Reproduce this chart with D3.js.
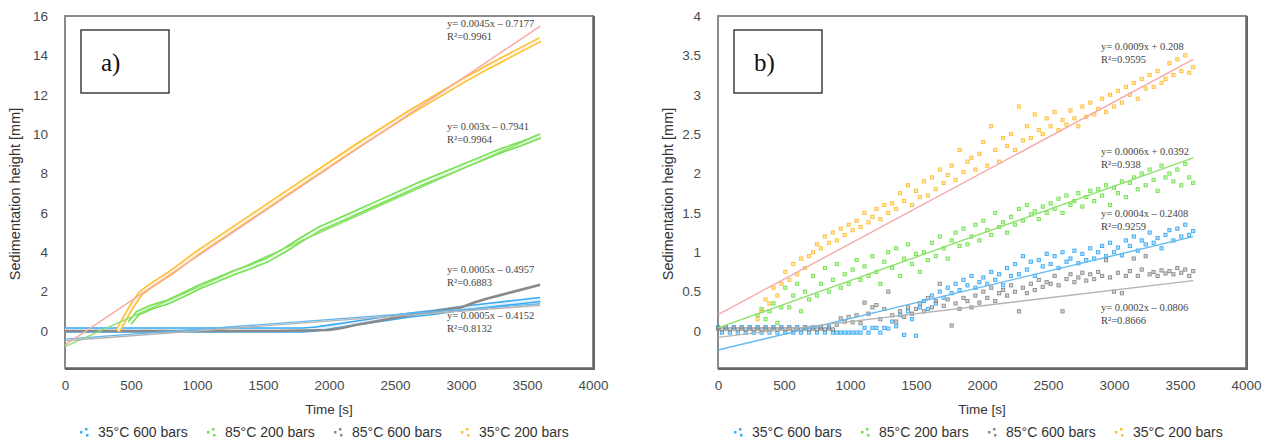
<!DOCTYPE html>
<html>
<head>
<meta charset="utf-8">
<script src="https://cdn.jsdelivr.net/npm/d3@7"></script>
<style>
body{margin:0;background:#fff}
svg{display:block}
text{font-family:"Liberation Sans",Arial,sans-serif}
text.serif{font-family:"Liberation Serif","Times New Roman",serif}
</style>
</head>
<body>
<svg id="chart" width="1270" height="443"></svg>
<script>
// legend / series names (same for both panels)
let seriesNames = ["35\u00B0C 600 bars", "85\u00B0C 200 bars", "85\u00B0C 600 bars", "35\u00B0C 200 bars"];
let seriesColors = ["#37aaf2", "#6fe14a", "#8a8a8a", "#ffbe30"];
let trendColors = ["#62b9f0", "#8fe06c", "#b4b4b4", "#f6a9a9"];

let xTicks = [0, 500, 1000, 1500, 2000, 2500, 3000, 3500, 4000];
let yTicksA = [0, 2, 4, 6, 8, 10, 12, 14, 16];
let yTicksB = [0, 0.5, 1, 1.5, 2, 2.5, 3, 3.5, 4];

// ---- panel a) : dense records ----
let aBlueT = [0, 300, 600, 900, 1200, 1500, 1800, 1900, 2000, 2200, 2400, 2600, 2800, 3000, 3200, 3400, 3600];
let aBlueV = [0.05, 0.05, 0.05, 0.05, 0.05, 0.05, 0.05, 0.1, 0.2, 0.4, 0.6, 0.8, 0.95, 1.15, 1.3, 1.45, 1.6];
let aGreenT = [490, 550, 650, 770, 900, 1020, 1150, 1275, 1400, 1530, 1650, 1780, 1930, 2100, 2300, 2500, 2700, 2900, 3100, 3300, 3450, 3600];
let aGreenV = [0.4, 0.9, 1.2, 1.45, 1.85, 2.25, 2.6, 2.95, 3.25, 3.6, 4.05, 4.6, 5.2, 5.7, 6.3, 6.9, 7.5, 8.05, 8.6, 9.15, 9.5, 9.9];
let aGrayT = [0, 400, 800, 1200, 1600, 2000, 2100, 2200, 2400, 2600, 2800, 3000, 3100, 3200, 3400, 3600];
let aGrayV = [0, 0, 0, 0, 0, 0.05, 0.15, 0.3, 0.55, 0.8, 1.0, 1.2, 1.45, 1.65, 2.0, 2.35];
let aOrangeT = [400, 450, 500, 570, 650, 800, 1000, 1200, 1400, 1600, 1800, 2000, 2200, 2400, 2600, 2800, 3000, 3200, 3400, 3600];
let aOrangeV = [0.0, 0.6, 1.2, 1.9, 2.3, 2.95, 3.95, 4.85, 5.75, 6.65, 7.55, 8.45, 9.35, 10.2, 11.05, 11.85, 12.65, 13.4, 14.1, 14.8];

// fitted trend lines (slope, intercept from the labels)
let aSlopes = [0.0005, 0.003, 0.0005, 0.0045];
let aIntercepts = [-0.4152, -0.7941, -0.4957, -0.7177];
let aEquations = ["y= 0.0005x \u2013 0.4152", "y= 0.003x \u2013 0.7941", "y= 0.0005x \u2013 0.4957", "y= 0.0045x \u2013 0.7177"];
let aR2 = ["R\u00B2=0.8132", "R\u00B2=0.9964", "R\u00B2=0.6883", "R\u00B2=0.9961"];

// ---- panel b) : scattered records every 30 s ----
let bTimeAll = d3.range(0, 3601, 30);      // blue & gray
let bTimeLate = d3.range(300, 3601, 30);   // green & orange
let bBlueV = [
  0.05, -0.02, 0.05, -0.02, 0.05, -0.02, 0.05, -0.02, 0.05, -0.02,
  0.05, -0.02, 0.05, -0.02, 0.05, -0.02, 0.05, -0.02, 0.05, -0.02,
  0.05, -0.02, 0.05, -0.02, 0.05, -0.02, 0.05, -0.02, 0.05, -0.02,
  -0.02, -0.02, -0.02, -0.02, -0.02, -0.02, -0.02,
  0.04, -0.02, 0.04, 0.04, -0.02, 0.04, 0.03,
  0.12, 0.06, 0.2, -0.05, 0.25, 0.15, -0.06,
  0.3, 0.38, 0.28, 0.45, 0.35, 0.5, 0.42,
  0.55, 0.48, 0.6, 0.52, 0.65, 0.58, 0.7, 0.55, 0.62,
  0.68, 0.6, 0.75, 0.65, 0.72, 0.58, 0.8, 0.7,
  0.85, 0.72, 0.95, 0.78, 0.88, 0.7, 0.9, 0.82, 0.98,
  0.85, 0.95, 0.8, 1.0, 0.88, 0.92, 1.02, 0.86, 0.98, 0.9,
  1.05, 0.92, 1.0, 1.08, 0.95, 1.12, 1.0, 1.06, 0.96, 1.15,
  1.08, 1.2, 1.02, 1.15, 1.1, 1.25, 1.12, 1.18, 1.05, 1.22,
  1.28, 1.15, 1.3, 1.2, 1.35, 1.22, 1.27
];
let bGrayV = [
  0.03, 0.02, 0.03, 0.02, 0.03, 0.02, 0.03, 0.02, 0.03, 0.02,
  0.03, 0.02, 0.03, 0.02, 0.03, 0.02, 0.03, 0.02, 0.03, 0.02,
  0.03, 0.02, 0.03, 0.02, 0.03, 0.02, 0.03, 0.02, 0.03, 0.02,
  0.08, 0.16, 0.12, 0.18, 0.11, 0.2, 0.1,
  0.36, 0.22, 0.3, 0.33, 0.15, 0.28, 0.5,
  0.2, 0.12, 0.25, 0.18, 0.3, 0.22, 0.28,
  0.35, 0.25, 0.42, 0.3, 0.38, 0.6, 0.32,
  0.4, 0.07, 0.35, 0.28, 0.42, 0.38, 0.3, 0.45, 0.36,
  0.5, 0.42, 0.55, 0.38, 0.48, 0.52, 0.45, 0.58,
  0.5, 0.25, 0.55, 0.48, 0.6, 0.52, 0.65, 0.56, 0.62,
  0.6, 0.7, 0.58, 0.25, 0.66, 0.72, 0.62, 0.68, 0.74, 0.64,
  0.72, 0.66, 0.75, 0.7, 0.9, 0.68, 0.5, 0.74, 0.48, 0.7,
  0.76, 0.92, 0.7, 0.78, 0.95, 0.72, 0.75, 0.7, 0.77, 0.73,
  0.76, 0.72, 0.8, 0.74, 0.78, 0.7, 0.76
];
let bGreenV = [
  0.2, 0.28, 0.15, 0.25, 0.35, 0.1, 0.3,
  0.55, 0.3, 0.45, 0.6, 0.25, 0.5, 0.4,
  0.7, 0.45, 0.6, 0.8, 0.5, 0.65, 0.85, 0.55, 0.72, 0.6,
  0.78, 0.9, 0.65, 0.82, 0.7, 0.95, 0.75, 0.6, 0.88, 1.0,
  0.8, 1.05, 0.7, 0.92, 1.1, 0.85, 0.98, 0.75, 1.0, 0.9,
  1.12, 0.95, 1.2, 1.05, 0.92, 1.15, 1.25, 1.08, 1.3, 1.1,
  1.2, 1.35, 1.15, 1.4, 1.28, 1.22, 1.5, 1.32, 1.38, 1.25,
  1.45, 1.35, 1.55, 1.4, 1.6, 1.48, 1.52, 1.42, 1.58, 1.5,
  1.62, 1.55, 1.68, 1.5, 1.72, 1.6, 1.65, 1.75, 1.58, 1.7,
  1.78, 1.65, 1.8, 1.72, 1.85, 1.6, 1.82, 1.75, 1.9, 1.7,
  1.88, 1.95, 1.8, 2.0, 1.85, 2.05, 1.92, 1.78, 2.1, 1.95,
  2.0, 1.9, 2.05, 1.85, 2.12, 1.95, 1.88
];
let bOrangeV = [
  0.15, 0.25, 0.4, 0.35, 0.55, 0.45, 0.6,
  0.75, 0.65, 0.85, 0.72, 0.92, 0.8, 0.95,
  1.0, 1.1, 1.05, 1.2, 1.12, 1.25, 1.15, 1.3, 1.22, 1.35,
  1.28, 1.4, 1.32, 1.5, 1.38, 1.45, 1.55, 1.42, 1.6, 1.5,
  1.62, 1.55, 1.75, 1.65, 1.85, 1.6, 1.78, 1.7, 1.9, 1.72,
  1.95, 1.8, 2.05, 1.88, 1.98, 2.1, 1.92, 2.3, 2.02, 2.15,
  2.2, 2.05, 2.25, 2.4, 2.1, 2.6, 2.3, 2.15, 2.45, 2.35,
  2.5, 2.3, 2.85, 2.42, 2.6, 2.45, 2.75, 2.55, 2.5, 2.7,
  2.6, 2.78, 2.55, 2.68, 2.62, 2.8, 2.7, 2.6, 2.85, 2.72,
  2.9, 2.75, 2.82, 2.95, 2.78, 3.0, 2.85, 3.05, 2.9, 3.1,
  3.0, 3.15, 2.95, 3.2, 3.08, 3.25, 3.1, 3.3, 3.15, 3.2,
  3.4, 3.25, 3.45, 3.3, 3.5, 3.28, 3.35
];
let bSlopes = [0.0004, 0.0006, 0.0002, 0.0009];
let bIntercepts = [-0.2408, 0.0392, -0.0806, 0.208];
let bEquations = ["y= 0.0004x \u2013 0.2408", "y= 0.0006x + 0.0392", "y= 0.0002x \u2013 0.0806", "y= 0.0009x + 0.208"];
let bR2 = ["R\u00B2=0.9259", "R\u00B2=0.938", "R\u00B2=0.8666", "R\u00B2=0.9595"];

let svg = d3.select("#chart");

function zip(t, v) {
    return t.map((d, i) => ({t: d, v: v[i]}));
}

function drawPanel(p) {
    let xScale = d3.scaleLinear().domain([0, 4000]).range([p.left, p.right]);
    let yScale = d3.scaleLinear().domain([0, p.yMax]).range([331, 16]);
    let g = svg.append("g");

    // frame
    g.append("rect")
        .attr("x", p.left).attr("y", 16)
        .attr("width", p.right - p.left).attr("height", 368 - 16)
        .attr("fill", "none").attr("stroke", "#8a8a8a").attr("stroke-width", 2);
    g.append("path")
        .attr("d", `M${p.right + 1},16 V${369} H${p.left}`)
        .attr("fill", "none").attr("stroke", "#666").attr("stroke-width", 2);

    // axes (labels only)
    let yAxis = d3.axisLeft(yScale).tickValues(p.yTicks).tickSize(0).tickPadding(17)
        .tickFormat(d => String(d));
    let gy = g.append("g").attr("transform", `translate(${p.left},0)`).call(yAxis);
    let xAxis = d3.axisBottom(xScale).tickValues(xTicks).tickSize(0).tickPadding(12)
        .tickFormat(d => String(d));
    let gx = g.append("g").attr("transform", "translate(0,368)").call(xAxis);
    [gx, gy].forEach(a => {
        a.select(".domain").remove();
        a.selectAll("text").attr("font-size", 13.5).attr("fill", "#4a4a4a");
    });

    // axis titles
    g.append("text")
        .attr("x", (p.left + p.right) / 2).attr("y", 414)
        .attr("text-anchor", "middle").attr("font-size", 13.5).attr("fill", "#333")
        .text("Time [s]");
    g.append("text")
        .attr("transform", `translate(${p.left - 45},194) rotate(-90)`)
        .attr("text-anchor", "middle").attr("font-size", 14.5).attr("fill", "#333")
        .text("Sedimentation height [mm]");

    let plot = g.append("g");
    let line = d3.line().x(d => xScale(d.t)).y(d => yScale(d.v));

    if (p.kind == "dense") {
        p.series.forEach((s, i) => {
            if (i == 2) {
                plot.append("path").datum(s).attr("d", line)
                    .attr("fill", "none").attr("stroke", seriesColors[i]).attr("stroke-width", 2.6);
            } else {
                plot.append("path").datum(s).attr("d", line)
                    .attr("fill", "none").attr("stroke", seriesColors[i]).attr("stroke-width", 5.5);
                plot.append("path").datum(s).attr("d", line)
                    .attr("fill", "none").attr("stroke", "#fff").attr("stroke-width", 2.4)
                    .attr("stroke-opacity", 0.85);
            }
        });
    } else {
        p.series.forEach((s, i) => {
            plot.selectAll(".pt" + i)
                .data(s)
                .enter()
                .append("rect")
                .attr("class", "pt" + i)
                .attr("x", d => xScale(d.t) - 1.6)
                .attr("y", d => yScale(d.v) - 1.6)
                .attr("width", 3.2).attr("height", 3.2)
                .attr("fill", seriesColors[i]).attr("fill-opacity", 0.35)
                .attr("stroke", seriesColors[i]).attr("stroke-width", 0.9);
        });
    }

    // trend lines
    p.slopes.forEach((m, i) => {
        let ends = [0, 3600].map(t => ({t: t, v: m * t + p.intercepts[i]}));
        plot.append("path").datum(ends).attr("d", line)
            .attr("fill", "none").attr("stroke", trendColors[i]).attr("stroke-width", 1.4);
    });

    // equation labels
    p.labelY.forEach((yy, i) => {
        let t = g.append("text").attr("class", "serif")
            .attr("x", p.labelX).attr("y", yy)
            .attr("font-size", 10.5).attr("fill", "#444");
        t.append("tspan").attr("x", p.labelX).text(p.equations[i]);
        t.append("tspan").attr("x", p.labelX).attr("dy", 12.5).text(p.r2[i]);
    });

    // panel tag box
    g.append("rect")
        .attr("x", p.left + 16).attr("y", 30).attr("width", 88).attr("height", 63)
        .attr("fill", "#fff").attr("stroke", "#222").attr("stroke-width", 1.3);
    g.append("text").attr("class", "serif")
        .attr("x", p.left + 36).attr("y", 71)
        .attr("font-size", 25).attr("fill", "#111")
        .text(p.tag);

    // legend
    let leg = g.append("g").attr("transform", `translate(${p.legendX},0)`);
    seriesNames.forEach((name, i) => {
        let item = leg.append("g").attr("transform", `translate(${i * 127},0)`);
        [[0, 431], [5, 428], [6, 434]].forEach(c => {
            item.append("rect").attr("x", c[0]).attr("y", c[1])
                .attr("width", 2.5).attr("height", 2.5).attr("fill", seriesColors[i]);
        });
        item.append("text").attr("x", 18).attr("y", 437)
            .attr("font-size", 14).attr("fill", "#333").text(name);
    });
}

drawPanel({
    kind: "dense", tag: "a)", left: 65, right: 593, yMax: 16, yTicks: yTicksA,
    series: [zip(aBlueT, aBlueV), zip(aGreenT, aGreenV), zip(aGrayT, aGrayV), zip(aOrangeT, aOrangeV)],
    slopes: aSlopes, intercepts: aIntercepts, equations: aEquations, r2: aR2,
    labelX: 447, labelY: [319, 130, 273, 27], legendX: 80
});
drawPanel({
    kind: "scatter", tag: "b)", left: 718, right: 1246, yMax: 4, yTicks: yTicksB,
    series: [zip(bTimeAll, bBlueV), zip(bTimeLate, bGreenV), zip(bTimeAll, bGrayV), zip(bTimeLate, bOrangeV)],
    slopes: bSlopes, intercepts: bIntercepts, equations: bEquations, r2: bR2,
    labelX: 1101, labelY: [217, 155, 311, 50], legendX: 734
});
</script>
</body>
</html>
